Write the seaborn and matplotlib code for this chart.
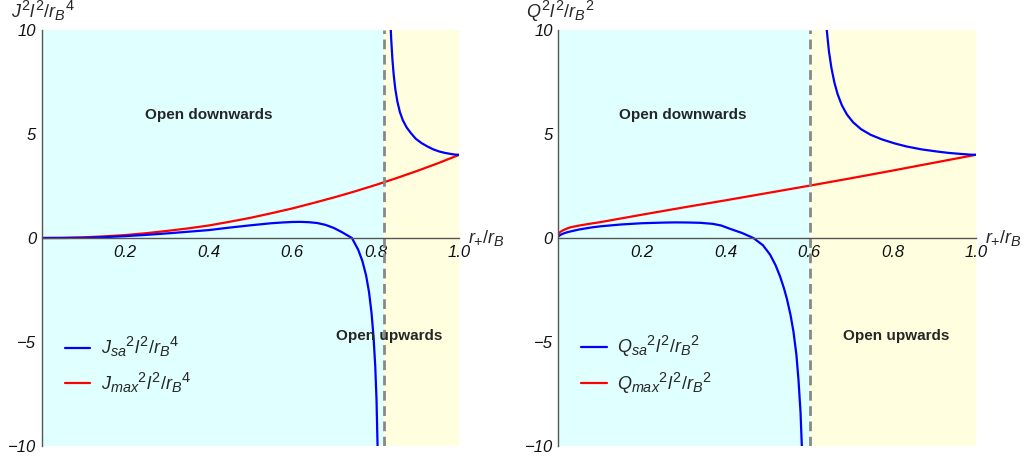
import matplotlib
matplotlib.use("Agg")
import matplotlib.pyplot as plt
from matplotlib.ticker import MultipleLocator
import seaborn as sns

try:
    import matplotlib._mathtext as _mt
    _mt.SHRINK_FACTOR = 0.8   # larger sub/superscripts, closer to the reference
except Exception:
    pass

# ---- left panel: J ----
x_jmax = [0, 0.05, 0.1, 0.15, 0.2, 0.25, 0.3, 0.35, 0.4, 0.45, 0.5,
          0.55, 0.6, 0.65, 0.7, 0.75, 0.8, 0.85, 0.9, 0.95, 1.0]
j_max = [0, 0.01, 0.03, 0.08, 0.14, 0.23, 0.34, 0.46, 0.6, 0.78, 0.97,
         1.19, 1.42, 1.68, 1.95, 2.24, 2.55, 2.88, 3.23, 3.6, 4.0]

x_jsa_lo = [0, 0.05, 0.1, 0.15, 0.2, 0.25, 0.3, 0.35, 0.4, 0.45, 0.5, 0.55,
            0.58, 0.6, 0.62, 0.64, 0.66, 0.68, 0.7, 0.72, 0.743, 0.758,
            0.768, 0.777, 0.784, 0.79, 0.795, 0.799, 0.802, 0.805]
j_sa_lo = [0, 0.0, 0.01, 0.04, 0.09, 0.15, 0.22, 0.3, 0.38, 0.5, 0.61, 0.71,
           0.75, 0.77, 0.775, 0.76, 0.72, 0.63, 0.48, 0.27, 0.0, -0.56,
           -1.1, -1.8, -2.6, -3.6, -4.8, -6.2, -7.8, -10.5]

x_jsa_hi = [0.835, 0.837, 0.84, 0.843, 0.847, 0.852, 0.858, 0.865, 0.874,
            0.884, 0.896, 0.91, 0.924, 0.938, 0.952, 0.966, 0.98, 0.99, 1.0]
j_sa_hi = [10.55, 9.61, 8.6, 7.87, 7.16, 6.55, 6.05, 5.66, 5.32,
           5.05, 4.77, 4.56, 4.4, 4.26, 4.16, 4.09, 4.04, 4.01, 4.0]

j_split = 0.819

# ---- right panel: Q ----
x_qmax = [0, 0.005, 0.01, 0.02, 0.03, 0.05, 0.08, 0.1, 0.15, 0.2, 0.3,
          0.4, 0.5, 0.6, 0.7, 0.8, 0.9, 1.0]
q_max = [0.2, 0.3, 0.36, 0.45, 0.52, 0.6, 0.7, 0.76, 0.94, 1.12, 1.47,
         1.81, 2.16, 2.51, 2.87, 3.24, 3.62, 4.0]

x_qsa_lo = [0, 0.005, 0.01, 0.02, 0.03, 0.05, 0.08, 0.1, 0.15, 0.2, 0.25,
            0.28, 0.31, 0.34, 0.37, 0.39, 0.41, 0.44, 0.467, 0.49, 0.507,
            0.52, 0.531, 0.54, 0.547, 0.556, 0.563, 0.57, 0.575, 0.58, 0.584]
q_sa_lo = [0.08, 0.15, 0.2, 0.27, 0.32, 0.41, 0.51, 0.56, 0.65, 0.71, 0.74,
           0.75, 0.745, 0.73, 0.68, 0.6, 0.45, 0.24, 0.0, -0.35, -0.8,
           -1.3, -1.85, -2.4, -2.9, -3.7, -4.5, -5.6, -6.8, -8.4, -10.5]

x_qsa_hi = [0.64, 0.643, 0.648, 0.654, 0.661, 0.669, 0.679, 0.691, 0.706,
            0.725, 0.748, 0.775, 0.805, 0.834, 0.87, 0.906, 0.935, 0.962,
            0.985, 1.0]
q_sa_hi = [10.53, 9.95, 8.97, 8.17, 7.48, 6.9, 6.38, 5.94, 5.56,
           5.23, 4.96, 4.74, 4.55, 4.4, 4.26, 4.16, 4.09, 4.045,
           4.01, 4.0]

q_split = 0.603

sns.set_style("white")
plt.rcParams["font.family"] = ["Liberation Sans", "DejaVu Sans"]
plt.rcParams["mathtext.fontset"] = "custom"
plt.rcParams["mathtext.rm"] = "Liberation Sans"
plt.rcParams["mathtext.it"] = "Liberation Sans:italic"
plt.rcParams["mathtext.bf"] = "Liberation Sans:bold"

W, H = 1024, 463
fig = plt.figure(figsize=(W / 100, H / 100), dpi=100)
ax1 = fig.add_axes([41.7 / W, 17 / H, 417.5 / W, 416 / H])
ax2 = fig.add_axes([558.4 / W, 17 / H, 417.5 / W, 416 / H])

cyan = "#e0ffff"
yellow = "#ffffe0"
axcol = "#555555"


def style_axis(ax, split):
    ax.set_xlim(0, 1)
    ax.set_ylim(-10, 10)
    ax.axvspan(0, split, color=cyan, lw=0, zorder=0)
    ax.axvspan(split, 1, color=yellow, lw=0, zorder=0)
    ax.axvline(split, color="#888888", ls=(0, (3.5, 2)), lw=2, zorder=3)
    for s in ["top", "right"]:
        ax.spines[s].set_visible(False)
    ax.spines["bottom"].set_position(("data", 0))
    for s in ["left", "bottom"]:
        ax.spines[s].set_color(axcol)
        ax.spines[s].set_linewidth(1)
        ax.spines[s].set_zorder(4)
    ax.set_xticks([0.2, 0.4, 0.6, 0.8, 1.0])
    ax.set_xticklabels(["0.2", "0.4", "0.6", "0.8", "1.0"])
    ax.set_yticks([-10, -5, 0, 5, 10])
    ax.set_yticklabels(["\u221210", "\u22125", "0", "5", "10"])
    ax.xaxis.set_minor_locator(MultipleLocator(0.05))
    ax.yaxis.set_minor_locator(MultipleLocator(1))
    ax.tick_params(which="both", direction="in", color=axcol, labelsize=12,
                   labelcolor="#111111")
    ax.tick_params(axis="x", which="major", length=5, pad=5)
    ax.tick_params(axis="y", which="major", length=5, pad=4)
    ax.tick_params(which="minor", length=3)
    for t in ax.get_xticklabels() + ax.get_yticklabels():
        t.set_fontstyle("italic")
    ax.set_xlabel("")
    ax.set_ylabel("")
    ax.text(1.022, 0.004, r"$r_{{+}}/r_B$", transform=ax.get_yaxis_transform(),
            ha="left", va="center", fontsize=13)


def draw(ax, x_lo, y_lo, x_hi, y_hi, x_mx, y_mx, lab_sa, lab_mx):
    sns.lineplot(x=x_mx, y=y_mx, ax=ax, color="red", lw=1.6, sort=False,
                 label=lab_mx, zorder=2)
    sns.lineplot(x=x_lo, y=y_lo, ax=ax, color="blue", lw=1.6, sort=False,
                 label=lab_sa, zorder=2)
    sns.lineplot(x=x_hi, y=y_hi, ax=ax, color="blue", lw=1.6, sort=False,
                 zorder=2)
    h, l = ax.get_legend_handles_labels()
    ax.legend([h[1], h[0]], [l[1], l[0]], loc="center left",
              bbox_to_anchor=(0.055, 0.195), frameon=False, fontsize=13,
              handlelength=1.4, handletextpad=0.6, labelspacing=0.6,
              borderpad=0, borderaxespad=0)


draw(ax1, x_jsa_lo, j_sa_lo, x_jsa_hi, j_sa_hi, x_jmax, j_max,
     r"$J_{sa}{}^2l^2/r_B{}^4$", r"$J_{max}{}^2l^2/r_B{}^4$")
draw(ax2, x_qsa_lo, q_sa_lo, x_qsa_hi, q_sa_hi, x_qmax, q_max,
     r"$Q_{sa}{}^2l^2/r_B{}^2$", r"$Q_{max}{}^2l^2/r_B{}^2$")
style_axis(ax1, j_split)
style_axis(ax2, q_split)

ax1.text(0.40, 5.9, "Open downwards", ha="center", va="center",
         fontsize=11, fontweight="bold")
ax1.text(0.832, -4.7, "Open upwards", ha="center", va="center",
         fontsize=11, fontweight="bold")
ax2.text(0.298, 5.9, "Open downwards", ha="center", va="center",
         fontsize=11, fontweight="bold")
ax2.text(0.808, -4.7, "Open upwards", ha="center", va="center",
         fontsize=11, fontweight="bold")

fig.text(11 / W, 1 - 11 / H, r"$J^2l^2/r_B{}^4$", ha="left", va="center",
         fontsize=13)
fig.text(526 / W, 1 - 11 / H, r"$Q^2l^2/r_B{}^2$", ha="left", va="center",
         fontsize=13)

fig.savefig("out.png", dpi=100)
